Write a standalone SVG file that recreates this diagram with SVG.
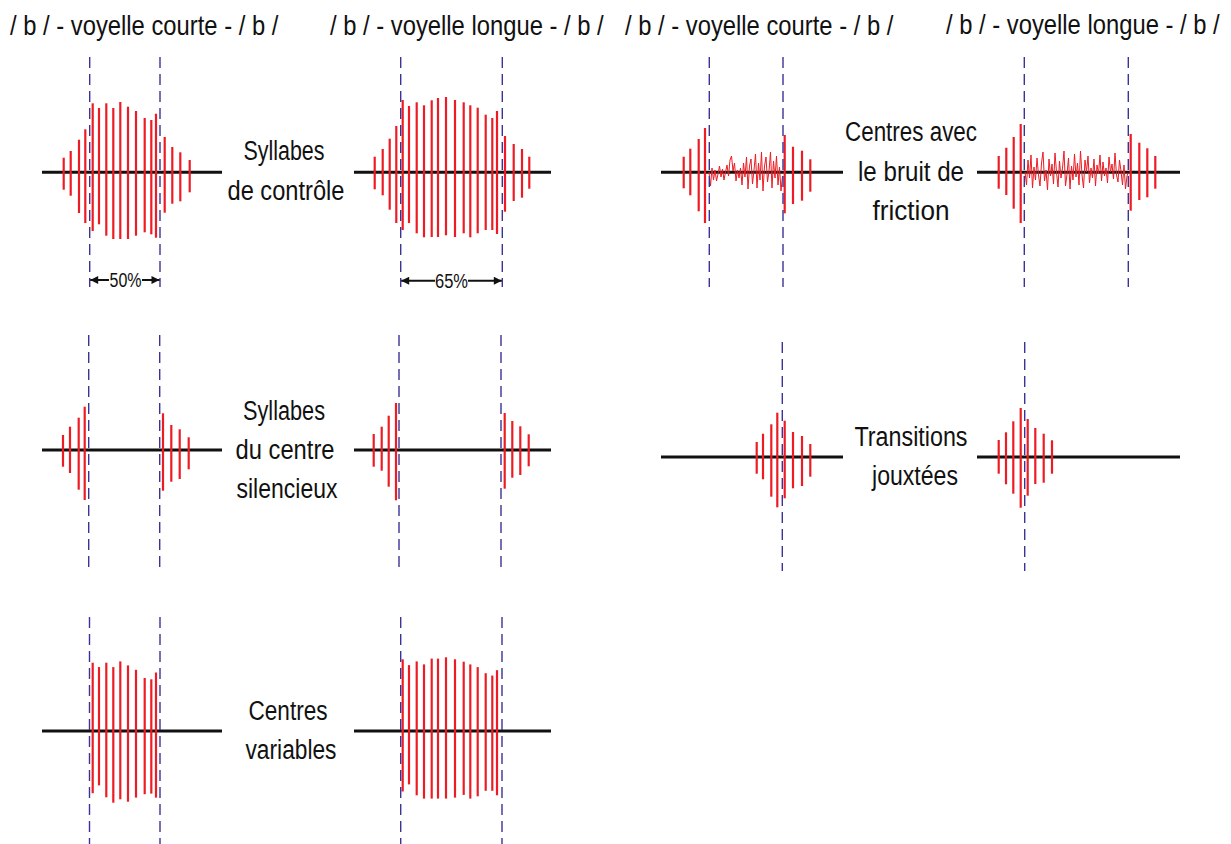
<svg xmlns="http://www.w3.org/2000/svg" width="1231" height="844" viewBox="0 0 1231 844">
<style>
text{font-family:"Liberation Sans",Arial,sans-serif;fill:#111;}
.hdr{font-size:28px;}
.lbl{font-size:27px;text-anchor:middle;}
.pct{font-size:20px;text-anchor:middle;}
.base{stroke:#111;stroke-width:3;fill:none;}
.bar line{stroke:#ed1c24;stroke-width:2.2;}
.noise{stroke:#ed1c24;stroke-width:1;fill:none;stroke-linejoin:round;}
.dash{stroke:#3a3497;stroke-width:1.4;stroke-dasharray:11 6;fill:none;}
.arr{stroke:#111;stroke-width:2;fill:none;}
</style>
<defs>
<marker id="ah" viewBox="0 0 10 10" refX="10" refY="5" markerWidth="10" markerHeight="8" markerUnits="userSpaceOnUse" orient="auto-start-reverse">
<path d="M0,0 L10,5 L0,10 z" fill="#111"/>
</marker>
</defs>
<rect width="1231" height="844" fill="#fff"/>

<g id="headers">
<text class="hdr" transform="translate(10,35) scale(0.85,1)">/ b / - voyelle courte - / b /</text>
<text class="hdr" transform="translate(330,35) scale(0.85,1)">/ b / - voyelle longue - / b /</text>
<text class="hdr" transform="translate(625,35) scale(0.85,1)">/ b / - voyelle courte - / b /</text>
<text class="hdr" transform="translate(946,34) scale(0.85,1)">/ b / - voyelle longue - / b /</text>
</g>

<g id="label-controle">
<text class="lbl" x="284" y="160" textLength="81" lengthAdjust="spacingAndGlyphs">Syllabes</text>
<text class="lbl" x="286" y="200" textLength="117" lengthAdjust="spacingAndGlyphs">de contrôle</text>
</g>
<g id="label-silencieux">
<text class="lbl" x="284" y="420" textLength="82" lengthAdjust="spacingAndGlyphs">Syllabes</text>
<text class="lbl" x="285" y="459" textLength="99" lengthAdjust="spacingAndGlyphs">du centre</text>
<text class="lbl" x="287" y="498" textLength="101" lengthAdjust="spacingAndGlyphs">silencieux</text>
</g>
<g id="label-variables">
<text class="lbl" x="288" y="720" textLength="79" lengthAdjust="spacingAndGlyphs">Centres</text>
<text class="lbl" x="291" y="759" textLength="91" lengthAdjust="spacingAndGlyphs">variables</text>
</g>
<g id="label-friction">
<text class="lbl" x="911" y="141" textLength="132" lengthAdjust="spacingAndGlyphs">Centres avec</text>
<text class="lbl" x="911" y="181" textLength="106" lengthAdjust="spacingAndGlyphs">le bruit de</text>
<text class="lbl" x="911" y="220" textLength="77" lengthAdjust="spacingAndGlyphs">friction</text>
</g>
<g id="label-transitions">
<text class="lbl" x="911" y="446" textLength="113" lengthAdjust="spacingAndGlyphs">Transitions</text>
<text class="lbl" x="915" y="485" textLength="86" lengthAdjust="spacingAndGlyphs">jouxtées</text>
</g>

<!-- Row 1, panel 1 -->
<g id="p-controle-courte">
<line class="base" x1="42" y1="172.3" x2="222" y2="172.3"/>
<g class="bar">
<line x1="63.7" y1="157.7" x2="63.7" y2="189.7"/>
<line x1="70.7" y1="151" x2="70.7" y2="195.7"/>
<line x1="79" y1="139.7" x2="79" y2="213"/>
<line x1="85.3" y1="129.3" x2="85.3" y2="223"/>
<line x1="92.7" y1="103.3" x2="92.7" y2="231"/>
<line x1="99" y1="108" x2="99" y2="224.3"/>
<line x1="106.3" y1="103.3" x2="106.3" y2="235.7"/>
<line x1="113.3" y1="108" x2="113.3" y2="239"/>
<line x1="120.3" y1="102" x2="120.3" y2="239"/>
<line x1="128" y1="106.7" x2="128" y2="239"/>
<line x1="136" y1="111" x2="136" y2="235.7"/>
<line x1="144.7" y1="118" x2="144.7" y2="232.3"/>
<line x1="151.3" y1="120" x2="151.3" y2="234.3"/>
<line x1="156" y1="113.7" x2="156" y2="237.7"/>
<line x1="164.7" y1="137" x2="164.7" y2="212.7"/>
<line x1="172.3" y1="147" x2="172.3" y2="203.7"/>
<line x1="180.3" y1="152.3" x2="180.3" y2="201.3"/>
<line x1="189.7" y1="160" x2="189.7" y2="192.3"/>
</g>
<line class="dash" x1="89.7" y1="57" x2="89.7" y2="287"/>
<line class="dash" x1="160" y1="57" x2="160" y2="287"/>
<text class="pct" x="125.5" y="287" textLength="32" lengthAdjust="spacingAndGlyphs">50%</text>
</g>

<!-- Row 1, panel 2 -->
<g id="p-controle-longue">
<line class="base" x1="354" y1="172.3" x2="551" y2="172.3"/>
<g class="bar">
<line x1="374.7" y1="156.7" x2="374.7" y2="189.3"/>
<line x1="382.7" y1="149" x2="382.7" y2="195.3"/>
<line x1="389.7" y1="138.7" x2="389.7" y2="209.7"/>
<line x1="396.3" y1="126" x2="396.3" y2="223"/>
<line x1="402.7" y1="100" x2="402.7" y2="230"/>
<line x1="409" y1="106" x2="409" y2="223"/>
<line x1="416.7" y1="102.3" x2="416.7" y2="233.3"/>
<line x1="424" y1="105.3" x2="424" y2="237.3"/>
<line x1="431.7" y1="100.3" x2="431.7" y2="237"/>
<line x1="438" y1="98" x2="438" y2="237"/>
<line x1="446" y1="97" x2="446" y2="235.3"/>
<line x1="455" y1="100" x2="455" y2="237"/>
<line x1="463.7" y1="102.3" x2="463.7" y2="233.3"/>
<line x1="470.3" y1="105.3" x2="470.3" y2="237.3"/>
<line x1="477.7" y1="107.7" x2="477.7" y2="233.3"/>
<line x1="485.7" y1="114.7" x2="485.7" y2="230"/>
<line x1="492.3" y1="118" x2="492.3" y2="230"/>
<line x1="497" y1="111" x2="497" y2="234"/>
<line x1="505" y1="136" x2="505" y2="211.7"/>
<line x1="513.7" y1="144" x2="513.7" y2="201"/>
<line x1="522" y1="149" x2="522" y2="197.7"/>
<line x1="529.3" y1="156.7" x2="529.3" y2="188.7"/>
</g>
<line class="dash" x1="400.7" y1="57" x2="400.7" y2="287"/>
<line class="dash" x1="502.3" y1="57" x2="502.3" y2="287"/>
<text class="pct" x="451.5" y="288" textLength="33" lengthAdjust="spacingAndGlyphs">65%</text>
</g>

<!-- Row 1, panel 3 -->
<g id="p-friction-courte">
<line class="base" x1="661" y1="172.3" x2="843" y2="172.3"/>
<g class="bar">
<line x1="683.7" y1="156.7" x2="683.7" y2="188.3"/>
<line x1="690.3" y1="148.7" x2="690.3" y2="195.3"/>
<line x1="698.7" y1="139" x2="698.7" y2="211.3"/>
<line x1="705" y1="128" x2="705" y2="223"/>
<line x1="784.7" y1="135" x2="784.7" y2="213.3"/>
<line x1="793" y1="146.7" x2="793" y2="204"/>
<line x1="802" y1="150.7" x2="802" y2="200.7"/>
<line x1="810.3" y1="159.3" x2="810.3" y2="191.7"/>
</g>
<polyline class="noise" points="709,172 710.5,186 712,168 713.5,180 715,170 716.5,181 718,174 719.5,166 721,177 722.5,169 724,180 725.5,172 727,165 728.5,176 730,160 731.5,156 733,171 734.5,163 736,181 737.5,170 739,178 740.5,168 742,185 743.5,163 745,177 746.5,157 748,189 749.5,166 751,159 752.5,184 754,170 755.5,154 757,188 758.5,163 760,180 761.5,152 763,191 764.5,166 766,157 767.5,182 769,171 770.5,152 772,188 773.5,161 775,178 776.5,156 778,185 779.5,167 781,191 782.5,176"/>
<line class="dash" x1="709.3" y1="57" x2="709.3" y2="287"/>
<line class="dash" x1="783" y1="57" x2="783" y2="287"/>
</g>

<!-- Row 1, panel 4 -->
<g id="p-friction-longue">
<line class="base" x1="977" y1="172.3" x2="1180" y2="172.3"/>
<g class="bar">
<line x1="998.7" y1="156" x2="998.7" y2="188.7"/>
<line x1="1006.3" y1="147.7" x2="1006.3" y2="195"/>
<line x1="1013.7" y1="137" x2="1013.7" y2="208.7"/>
<line x1="1020.7" y1="124" x2="1020.7" y2="223"/>
<line x1="1130.7" y1="134" x2="1130.7" y2="210.7"/>
<line x1="1139.3" y1="142.7" x2="1139.3" y2="200"/>
<line x1="1147.3" y1="148.3" x2="1147.3" y2="197.3"/>
<line x1="1155.3" y1="156" x2="1155.3" y2="188.7"/>
</g>
<polyline class="noise" points="1025,172 1026.5,185 1028,160 1029.5,178 1031,155 1032.5,188 1034,167 1035.5,180 1037,158 1038.5,175 1040,186 1041.5,163 1043,152 1044.5,181 1046,170 1047.5,190 1049,159 1050.5,176 1052,164 1053.5,184 1055,153 1056.5,172 1058,187 1059.5,161 1061,178 1062.5,168 1064,151 1065.5,186 1067,174 1068.5,158 1070,189 1071.5,166 1073,180 1074.5,154 1076,177 1077.5,163 1079,185 1080.5,151 1082,175 1083.5,188 1085,160 1086.5,172 1088,156 1089.5,183 1091,168 1092.5,178 1094,159 1095.5,186 1097,165 1098.5,174 1100,155 1101.5,181 1103,162 1104.5,176 1106,168 1107.5,183 1109,157 1110.5,172 1112,164 1113.5,179 1115,153 1116.5,175 1118,182 1119.5,160 1121,171 1122.5,185 1124,165 1125.5,189 1127,176 1128,173"/>
<line class="dash" x1="1024.3" y1="57" x2="1024.3" y2="287"/>
<line class="dash" x1="1128.3" y1="57" x2="1128.3" y2="287"/>
</g>

<!-- Row 2, panel 1 -->
<g id="p-silence-courte">
<line class="base" x1="42" y1="450" x2="222" y2="450"/>
<g class="bar">
<line x1="63" y1="435" x2="63" y2="466.7"/>
<line x1="70" y1="426.7" x2="70" y2="473"/>
<line x1="78.7" y1="417.7" x2="78.7" y2="489.7"/>
<line x1="84.7" y1="406.7" x2="84.7" y2="500"/>
<line x1="163" y1="413.3" x2="163" y2="490.7"/>
<line x1="171.3" y1="425" x2="171.3" y2="481.7"/>
<line x1="179.7" y1="429.3" x2="179.7" y2="479"/>
<line x1="188.7" y1="437.3" x2="188.7" y2="469.3"/>
</g>
<line class="dash" x1="88.7" y1="335" x2="88.7" y2="567"/>
<line class="dash" x1="159.7" y1="335" x2="159.7" y2="567"/>
</g>

<!-- Row 2, panel 2 -->
<g id="p-silence-longue">
<line class="base" x1="354" y1="450" x2="551" y2="450"/>
<g class="bar">
<line x1="373.7" y1="434" x2="373.7" y2="466.7"/>
<line x1="381.7" y1="426.7" x2="381.7" y2="470.7"/>
<line x1="388.7" y1="415.7" x2="388.7" y2="486.7"/>
<line x1="396" y1="403" x2="396" y2="500.3"/>
<line x1="504.7" y1="413" x2="504.7" y2="488.7"/>
<line x1="512.3" y1="421" x2="512.3" y2="477.7"/>
<line x1="520.3" y1="426.3" x2="520.3" y2="475"/>
<line x1="528.7" y1="434.3" x2="528.7" y2="466.3"/>
</g>
<line class="dash" x1="399" y1="335" x2="399" y2="567"/>
<line class="dash" x1="501" y1="335" x2="501" y2="567"/>
</g>

<!-- Row 2, panel 3 -->
<g id="p-transitions-courte">
<line class="base" x1="661" y1="457" x2="843" y2="457"/>
<g class="bar">
<line x1="756.7" y1="442" x2="756.7" y2="473.7"/>
<line x1="763" y1="433.7" x2="763" y2="479.3"/>
<line x1="771.3" y1="424.3" x2="771.3" y2="496.7"/>
<line x1="777.3" y1="412.7" x2="777.3" y2="507.3"/>
<line x1="784.7" y1="420.7" x2="784.7" y2="498.3"/>
<line x1="793" y1="432" x2="793" y2="488.3"/>
<line x1="802" y1="436" x2="802" y2="486"/>
<line x1="810.3" y1="444" x2="810.3" y2="476.7"/>
</g>
<line class="dash" x1="782.3" y1="342" x2="782.3" y2="571"/>
</g>

<!-- Row 2, panel 4 -->
<g id="p-transitions-longue">
<line class="base" x1="977" y1="457" x2="1180" y2="457"/>
<g class="bar">
<line x1="998.7" y1="440" x2="998.7" y2="473.7"/>
<line x1="1006" y1="432.3" x2="1006" y2="484.3"/>
<line x1="1013.3" y1="421.3" x2="1013.3" y2="493.7"/>
<line x1="1020.7" y1="408" x2="1020.7" y2="507.7"/>
<line x1="1027.7" y1="419" x2="1027.7" y2="495.7"/>
<line x1="1035.3" y1="428" x2="1035.3" y2="484"/>
<line x1="1043.7" y1="433.7" x2="1043.7" y2="482.7"/>
<line x1="1052" y1="440.3" x2="1052" y2="473.7"/>
</g>
<line class="dash" x1="1024.7" y1="342" x2="1024.7" y2="571"/>
</g>

<!-- Row 3, panel 1 -->
<g id="p-variables-courte">
<line class="base" x1="42" y1="731" x2="222" y2="731"/>
<g class="bar">
<line x1="92.7" y1="662.7" x2="92.7" y2="793.2"/>
<line x1="99" y1="667.1" x2="99" y2="785.4"/>
<line x1="106.3" y1="662.7" x2="106.3" y2="797.3"/>
<line x1="113.3" y1="667.1" x2="113.3" y2="802.7"/>
<line x1="120.3" y1="661.4" x2="120.3" y2="799.3"/>
<line x1="128" y1="665.4" x2="128" y2="801.7"/>
<line x1="136" y1="669.8" x2="136" y2="797.6"/>
<line x1="144.7" y1="678" x2="144.7" y2="794.2"/>
<line x1="151.3" y1="679.3" x2="151.3" y2="793.6"/>
<line x1="156" y1="672.5" x2="156" y2="797.6"/>
</g>
<line class="dash" x1="89.5" y1="617" x2="89.5" y2="844"/>
<line class="dash" x1="160" y1="617" x2="160" y2="844"/>
</g>

<!-- Row 3, panel 2 -->
<g id="p-variables-longue">
<line class="base" x1="354" y1="731" x2="551" y2="731"/>
<g class="bar">
<line x1="402.7" y1="659.3" x2="402.7" y2="791.5"/>
<line x1="409" y1="665.1" x2="409" y2="784.4"/>
<line x1="416.7" y1="661.4" x2="416.7" y2="795.3"/>
<line x1="424" y1="664.4" x2="424" y2="798.6"/>
<line x1="431.7" y1="658.6" x2="431.7" y2="798.6"/>
<line x1="438" y1="658.6" x2="438" y2="798.6"/>
<line x1="446" y1="657.3" x2="446" y2="798.6"/>
<line x1="455" y1="659.3" x2="455" y2="797.6"/>
<line x1="463.7" y1="661.7" x2="463.7" y2="794.9"/>
<line x1="470.3" y1="664.4" x2="470.3" y2="798.6"/>
<line x1="477.7" y1="667.1" x2="477.7" y2="796.3"/>
<line x1="485.7" y1="673.2" x2="485.7" y2="790.8"/>
<line x1="492.3" y1="675.6" x2="492.3" y2="790.8"/>
<line x1="497" y1="670.2" x2="497" y2="795.3"/>
</g>
<line class="dash" x1="400.7" y1="617" x2="400.7" y2="844"/>
<line class="dash" x1="502" y1="617" x2="502" y2="844"/>
</g>

<g id="connectors">
<line class="arr" x1="109" y1="280" x2="90.2" y2="280" marker-end="url(#ah)"/>
<line class="arr" x1="142" y1="280" x2="159.5" y2="280" marker-end="url(#ah)"/>
<line class="arr" x1="435" y1="280.7" x2="401.2" y2="280.7" marker-end="url(#ah)"/>
<line class="arr" x1="468" y1="280.7" x2="501.8" y2="280.7" marker-end="url(#ah)"/>
</g>
</svg>
